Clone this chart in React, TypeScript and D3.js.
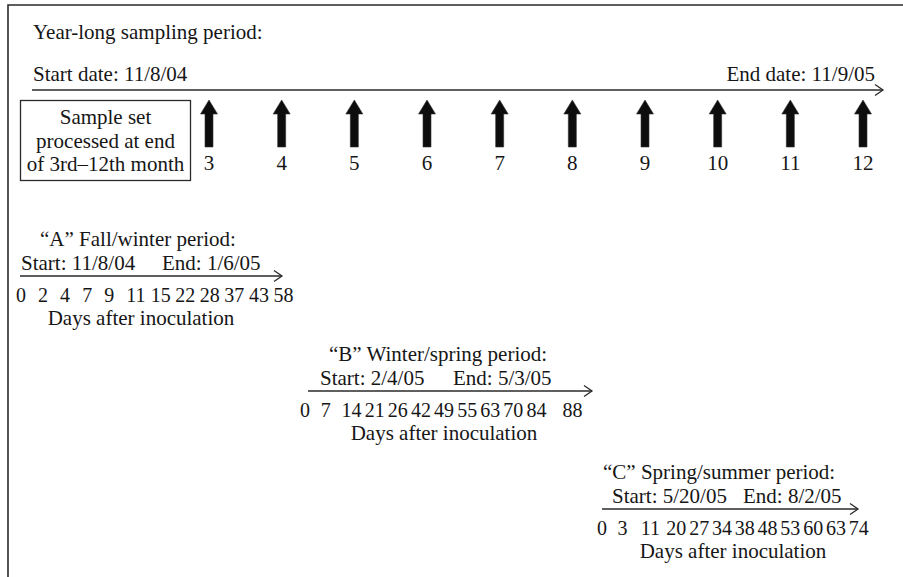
import React from "react";
import * as d3 from "d3";

// ---------- data ----------
const yearTitle = "Year-long sampling period:";
const yearStart = "Start date: 11/8/04";
const yearEnd = "End date: 11/9/05";
const boxLines = ["Sample set", "processed at end", "of 3rd–12th month"];
const months = [3, 4, 5, 6, 7, 8, 9, 10, 11, 12];

const periodTitles = ["“A” Fall/winter period:", "“B” Winter/spring period:", "“C” Spring/summer period:"];
const periodStarts = ["Start: 11/8/04", "Start: 2/4/05", "Start: 5/20/05"];
const periodEnds = ["End: 1/6/05", "End: 5/3/05", "End: 8/2/05"];
const daysA = [0, 2, 4, 7, 9, 11, 15, 22, 28, 37, 43, 58];
const daysB = [0, 7, 14, 21, 26, 42, 49, 55, 63, 70, 84, 88];
const daysC = [0, 3, 11, 20, 27, 34, 38, 48, 53, 60, 63, 74];
const daysSeries = [daysA, daysB, daysC];
const axisCaption = "Days after inoculation";

// ---------- layout ----------
const W = 903;
const H = 577;
const FONT = "'Liberation Serif', 'Times New Roman', serif";
const FS = 21;
const NUM_FS = 20;
const INK = "#161616";
const LINE = "#2a2a2a";

const periodLayout = [
  { x0: 20, x1: 282, y: 276, titleX: 40, startX: 21, endX: 162, numX0: 16, numX1: 293, daysCx: 141, extraGap: {} as Record<number, number> },
  { x0: 308, x1: 592, y: 391, titleX: 329, startX: 320, endX: 453, numX0: 300, numX1: 581, daysCx: 444, extraGap: { 10: 1.4 } as Record<number, number> },
  { x0: 602, x1: 858, y: 509, titleX: 603, startX: 612, endX: 743, numX0: 597, numX1: 867, daysCx: 733, extraGap: { 1: 0.3, 2: 0.3 } as Record<number, number> },
];

const monthX = d3.scaleLinear().domain([3, 12]).range([209, 863]);

function chevron(x: number, y: number) {
  return `M${x - 8},${y - 5.5}L${x},${y}L${x - 8},${y + 5.5}`;
}

function upArrow(cx: number) {
  const top = 100, headBase = 114, bottom = 147, hw = 8.5, sw = 4;
  return `M${cx},${top}L${cx + hw},${headBase}L${cx + sw},${headBase}L${cx + sw},${bottom}L${cx - sw},${bottom}L${cx - sw},${headBase}L${cx - hw},${headBase}Z`;
}

function numberSlots(days: number[], extra: Record<number, number>) {
  // unit layout: each digit = 1 unit; gap after single digit 1.25, after double 0.5
  const starts: number[] = [];
  let u = 0;
  days.forEach((d, i) => {
    starts.push(u);
    const len = String(d).length;
    u += len;
    if (i < days.length - 1) u += (len === 1 ? 1.25 : 0.5) + (extra[i] || 0);
  });
  return { starts, total: u };
}

function Period({ idx }: { idx: number }) {
  const L = periodLayout[idx];
  const days = daysSeries[idx];
  const { starts, total } = numberSlots(days, L.extraGap);
  const xs = d3.scaleLinear().domain([0, total]).range([L.numX0, L.numX1]);
  return (
    <g>
      <text x={L.titleX} y={L.y - 30}>{periodTitles[idx]}</text>
      <text x={L.startX} y={L.y - 6}>{periodStarts[idx]}</text>
      <text x={L.endX} y={L.y - 6}>{periodEnds[idx]}</text>
      <line x1={L.x0} x2={L.x1} y1={L.y} y2={L.y} stroke={LINE} strokeWidth={1.3} />
      <path d={chevron(L.x1, L.y)} fill="none" stroke={LINE} strokeWidth={1.3} />
      <text y={L.y + 26} fontSize={NUM_FS}>
        {days.map((d, i) => (
          <tspan key={i} x={xs(starts[i])}>{d}</tspan>
        ))}
      </text>
      <text x={L.daysCx} y={L.y + 49} textAnchor="middle">{axisCaption}</text>
    </g>
  );
}

export default function App() {
  return (
    <svg
      width={W}
      height={H}
      viewBox={`0 0 ${W} ${H}`}
      style={{ position: "absolute", left: 0, top: 0, background: "#fff", fontFamily: FONT }}
      fontSize={FS}
      fill={INK}
    >
      <rect x={0} y={0} width={W} height={H} fill="#fff" />
      {/* frame */}
      <path d={`M8,${H}L8,5L${W},5`} fill="none" stroke={LINE} strokeWidth={1.6} />

      {/* year-long section */}
      <text x={33} y={39}>{yearTitle}</text>
      <text x={33} y={81}>{yearStart}</text>
      <text x={875} y={81} textAnchor="end">{yearEnd}</text>
      <line x1={32} x2={883} y1={90} y2={90} stroke={LINE} strokeWidth={1.3} />
      <path d={chevron(883, 90)} fill="none" stroke={LINE} strokeWidth={1.3} />

      <rect x={20.5} y={100.5} width={170} height={80} fill="none" stroke={LINE} strokeWidth={1.3} />
      {boxLines.map((t, i) => (
        <text key={i} x={105.5} y={124 + i * 23.5} textAnchor="middle">{t}</text>
      ))}

      {months.map((m) => (
        <g key={m}>
          <path d={upArrow(monthX(m))} fill="#0d0d0d" stroke="#333" strokeWidth={0.6} />
          <text x={monthX(m)} y={170} textAnchor="middle">{m}</text>
        </g>
      ))}

      {[0, 1, 2].map((i) => (
        <Period key={i} idx={i} />
      ))}
    </svg>
  );
}
